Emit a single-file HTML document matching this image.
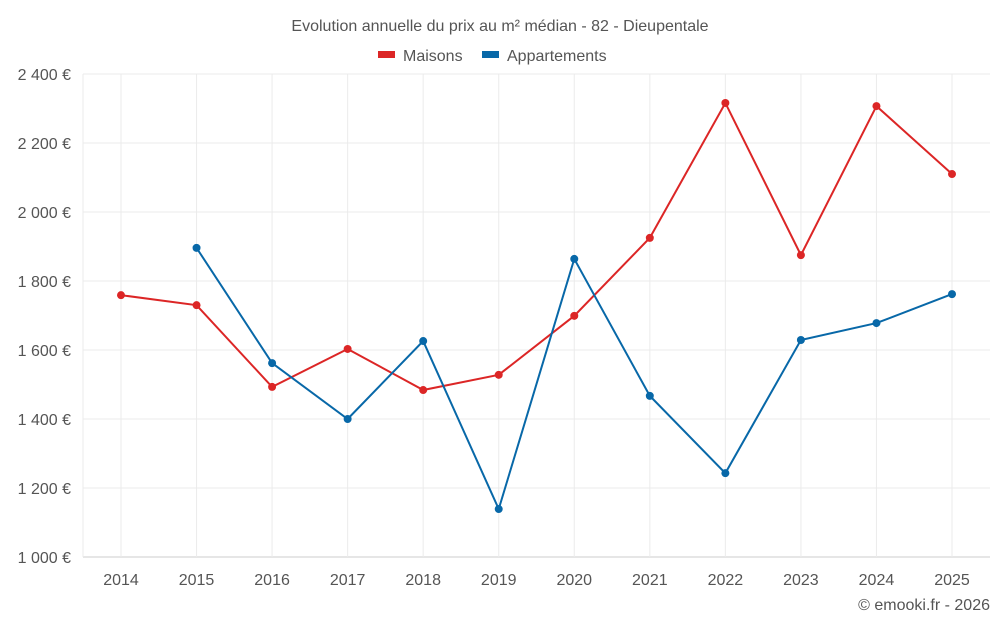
<!DOCTYPE html>
<html><head><meta charset="utf-8"><style>
body{margin:0;background:#fff;}
svg text{font-family:"Liberation Sans",sans-serif;fill:#555;}
</style></head><body>
<svg id="chart" width="1000" height="625">
<text x="500" y="31" text-anchor="middle" font-size="16">Evolution annuelle du prix au m² médian - 82 - Dieupentale</text>
<g>
<rect x="378" y="51" width="17" height="7" fill="#dc2626"/>
<text x="403" y="61" font-size="16">Maisons</text>
<rect x="482" y="51" width="17" height="7" fill="#0868a8"/>
<text x="507" y="61" font-size="16">Appartements</text>
</g>
<g id="grid"></g><g id="axes"></g><g id="series"></g>
<text x="990" y="610" text-anchor="end" font-size="16">© emooki.fr - 2026</text>
</svg>
<script>
const years=[2014,2015,2016,2017,2018,2019,2020,2021,2022,2023,2024,2025];
const maisons=[1759,1730,1493,1603,1484,1528,1699,1925,2316,1875,2307,2110];
const appartements=[null,1896,1562,1400,1626,1139,1864,1467,1243,1629,1678,1762];
const yTicks=[1000,1200,1400,1600,1800,2000,2200,2400];
const yTickLabels=["1 000 €","1 200 €","1 400 €","1 600 €","1 800 €","2 000 €","2 200 €","2 400 €"];
const NS="http://www.w3.org/2000/svg";
const L=83,R=990,T=74,B=557;
const x=i=>121+i*(952-121)/(years.length-1);
const y=v=>B-(v-1000)/(2400-1000)*(B-T);
function mk(tag,attrs,parent){const e=document.createElementNS(NS,tag);for(const k in attrs)e.setAttribute(k,attrs[k]);parent.appendChild(e);return e;}
const grid=document.getElementById('grid'),axes=document.getElementById('axes'),ser=document.getElementById('series');
yTicks.forEach((t,i)=>{
 const g=mk('line',{x1:L,x2:R,y1:y(t),y2:y(t),stroke:i==0?'#ccc':'#ebebeb'},grid);
 
 
 const tx=mk('text',{x:71,y:y(t)+6,'text-anchor':'end','font-size':'16'},axes);
 tx.textContent=yTickLabels[i];
 
 
});
years.forEach((yr,i)=>{
 const g=mk('line',{x1:x(i),x2:x(i),y1:T,y2:B,stroke:'#ebebeb'},grid);
 
 
 const tx=mk('text',{x:x(i),y:585,'text-anchor':'middle','font-size':'16'},axes);
 tx.textContent=yr;
 
 
});
const lv=mk('line',{x1:L,x2:L,y1:T,y2:B,stroke:'#ebebeb'},grid);


function draw(data,color,name){
 let d='';data.forEach((v,i)=>{if(v==null)return;d+=(d?'L':'M')+x(i)+' '+y(v);});
 const p=mk('path',{d:d,fill:'none',stroke:color,'stroke-width':2},ser);
 
 
 data.forEach((v,i)=>{if(v==null)return;
  const c=mk('circle',{cx:x(i),cy:y(v),r:4,fill:color},ser);
  
  
 });
}
draw(maisons,'#dc2626','maisons');
draw(appartements,'#0868a8','appartements');
</script>
</body></html>
